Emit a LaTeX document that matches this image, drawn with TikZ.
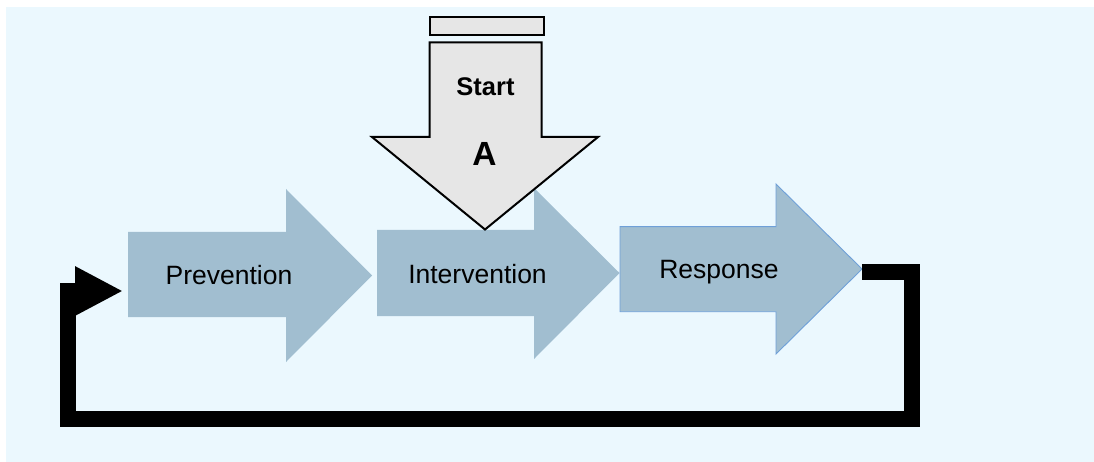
\documentclass[tikz,border=0pt]{standalone}
\usepackage{fontspec}
\setmainfont{Liberation Sans}
\usetikzlibrary{arrows.meta}
\definecolor{bgblue}{HTML}{EBF8FE}
\definecolor{arrowblue}{HTML}{A1BED0}
\definecolor{edgeblue}{HTML}{6FA0D8}
\definecolor{startgrey}{HTML}{E6E6E6}
\tikzset{
  blockarrow/.style={fill=arrowblue, draw=none},
  lbl/.style={anchor=base, inner sep=0pt, font=\fontsize{26.5}{31}\selectfont},
  loopline/.style={draw=black, line width=16pt, line join=miter, -{Triangle[length=48pt,width=46pt]}},
  startshape/.style={fill=startgrey, draw=black, line width=2pt, line join=miter}
}
\begin{document}
\begin{tikzpicture}[x=1pt,y=-1pt]
\useasboundingbox (0,0) rectangle (1094,462);
\fill[bgblue] (6,7) rectangle (1094,462);
% Prevention
\path[blockarrow] (128,232) -- (286,232) -- (286,189) -- (372,275.5) -- (286,362) -- (286,317) -- (128,317) -- cycle;
% Intervention
\path[blockarrow] (377,230) -- (534,230) -- (534,188) -- (619.5,273) -- (534,359) -- (534,316) -- (377,316) -- cycle;
% Response
\path[blockarrow, draw=edgeblue, line width=0.9pt] (620,226.7) -- (776,226.7) -- (776,184) -- (862,269) -- (776,354) -- (776,311.7) -- (620,311.7) -- cycle;
\coordinate (resptip) at (862,271.5);
\coordinate (c1) at (912,419);
\coordinate (c2) at (67.5,291);
\coordinate (previn) at (123,291);
\node[lbl] (prev) at (229,284) {Prevention};
\node[lbl] (interv) at (477.5,283.3) {Intervention};
\node[lbl] (resp) at (719,278) {Response};
% loop connector
\draw[loopline] (resptip) -| (c1) -| (c2) -- (previn);
% Start arrow
\draw[startshape] (429.5,17.5) rectangle (543.5,35);
\draw[startshape] (429.5,42.5) -- (541.5,42.5) -- (541.5,137) -- (598,137) -- (485,229.5) -- (372,137) -- (429.5,137) -- cycle;
\node[anchor=base, inner sep=0pt, font=\bfseries\fontsize{25.5}{29}\selectfont] (start) at (485.5,95.7) {Start};
\node[anchor=base, inner sep=0pt, font=\bfseries\fontsize{33.5}{38}\selectfont] (alabel) at (484.5,165.7) {A};
\end{tikzpicture}
\end{document}
